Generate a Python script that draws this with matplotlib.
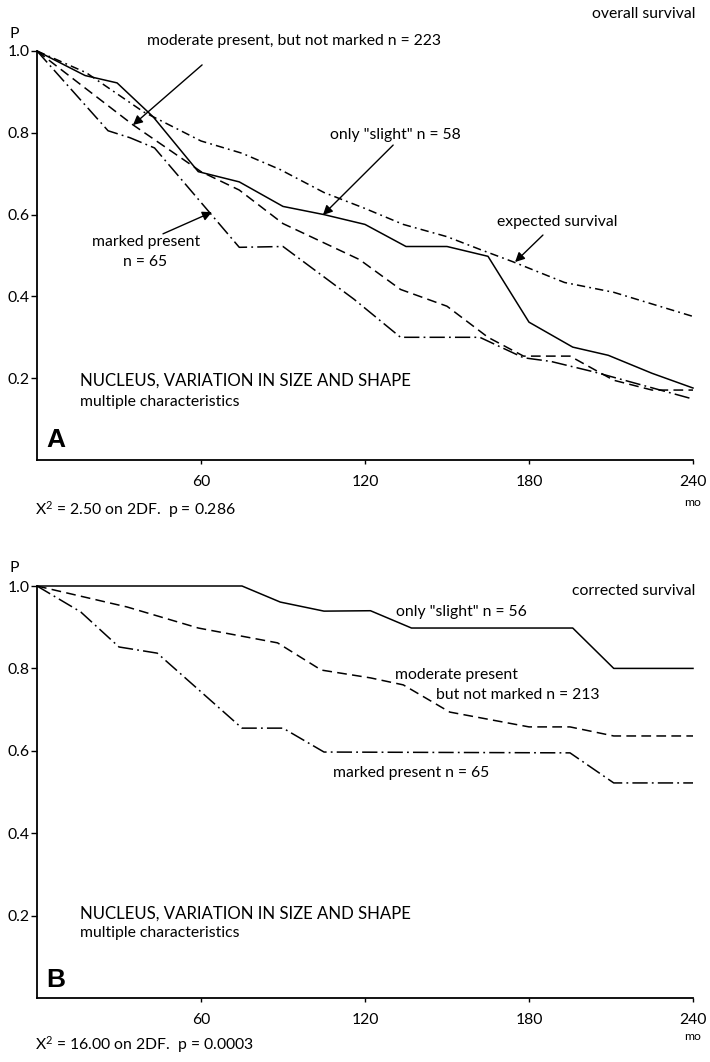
import matplotlib
matplotlib.use("Agg")
import matplotlib.pyplot as plt

plt.rcParams["font.family"] = ["Lato", "DejaVu Sans"]
plt.rcParams["mathtext.fontset"] = "custom"
plt.rcParams["mathtext.rm"] = "Lato"
plt.rcParams["mathtext.it"] = "Lato"
plt.rcParams["lines.scale_dashes"] = False

# ---- Panel A: overall survival ----
months_a_slight = [0, 17.6, 29.3, 42.5, 59, 74, 90, 105, 120, 135, 150, 165, 180, 196, 209, 225, 240]
p_a_slight = [1.0, 0.94, 0.922, 0.839, 0.705, 0.68, 0.62, 0.60, 0.576, 0.522, 0.522, 0.498, 0.337, 0.276, 0.256, 0.212, 0.176]

months_a_moderate = [0, 35, 60, 74, 90, 118, 133, 150, 165, 178, 195, 211, 225, 240]
p_a_moderate = [1.0, 0.82, 0.705, 0.66, 0.578, 0.49, 0.417, 0.376, 0.30, 0.254, 0.254, 0.195, 0.171, 0.171]

months_a_marked = [0, 26, 34, 43, 74, 90, 116, 133, 162, 178, 188, 204, 240]
p_a_marked = [1.0, 0.805, 0.788, 0.763, 0.52, 0.522, 0.393, 0.30, 0.30, 0.25, 0.241, 0.215, 0.149]

months_a_expected = [0, 18, 39, 60, 75, 89, 105, 120, 134, 150, 162, 174, 193, 211, 240]
p_a_expected = [1.0, 0.947, 0.851, 0.78, 0.75, 0.71, 0.654, 0.615, 0.576, 0.546, 0.515, 0.485, 0.434, 0.41, 0.351]

# ---- Panel B: corrected survival ----
months_b_slight = [0, 75, 89, 105, 122, 137, 196, 211, 240]
p_b_slight = [1.0, 1.0, 0.961, 0.939, 0.94, 0.898, 0.898, 0.80, 0.80]

months_b_moderate = [0, 33, 59, 88, 104, 122, 134, 151, 180, 195, 211, 240]
p_b_moderate = [1.0, 0.949, 0.898, 0.862, 0.796, 0.777, 0.76, 0.694, 0.658, 0.658, 0.636, 0.636]

months_b_marked = [0, 16, 30, 44, 75, 90, 105, 195, 211, 240]
p_b_marked = [1.0, 0.937, 0.852, 0.837, 0.655, 0.655, 0.597, 0.595, 0.522, 0.522]

x_ticks = [60, 120, 180, 240]
y_ticks = [0.2, 0.4, 0.6, 0.8, 1.0]
y_ticklabels = ["0.2", "0.4", "0.6", "0.8", "1.0"]

W, H = 710, 1062
fig = plt.figure(figsize=(W / 100, H / 100), dpi=100)


def fx(px):
    return px / W


def fy(py):
    return 1 - py / H


LW = 1.1
STYLE_SOLID = "-"
STYLE_DASH = (0, (7, 3.8))
STYLE_LONGDASHDOT = (0, (11, 3, 1.3, 3))
STYLE_DASHDOT = (0, (6, 3, 1.3, 3))
FS = 11.3


def setup_axes(ax):
    ax.set_xlim(0, 240)
    ax.set_ylim(0, 1.0)
    for s in ("top", "right"):
        ax.spines[s].set_visible(False)
    for s in ("left", "bottom"):
        ax.spines[s].set_linewidth(1.3)
    ax.set_xticks(x_ticks)
    ax.set_xticklabels([str(t) for t in x_ticks])
    ax.set_yticks(y_ticks)
    ax.set_yticklabels(y_ticklabels)
    ax.tick_params(axis="y", direction="out", length=4, width=1, pad=1.2, labelsize=FS)
    ax.tick_params(axis="x", direction="out", length=3, width=1, pad=7.5, labelsize=FS)
    ax.patch.set_visible(False)


def arrow(ax, start, tip):
    ax.annotate("", xy=tip, xytext=start,
                arrowprops=dict(arrowstyle="-|>", color="black", lw=1.0,
                                mutation_scale=14, shrinkA=0, shrinkB=0),
                annotation_clip=False)


# ---------------- Panel A ----------------
axA = fig.add_axes([fx(37), fy(460), fx(693) - fx(37), fy(51) - fy(460)])
setup_axes(axA)
axA.plot(months_a_expected, p_a_expected, color="black", lw=LW, linestyle=STYLE_DASHDOT, clip_on=False)
axA.plot(months_a_slight, p_a_slight, color="black", lw=LW, linestyle=STYLE_SOLID, clip_on=False)
axA.plot(months_a_moderate, p_a_moderate, color="black", lw=LW, linestyle=STYLE_DASH, clip_on=False)
axA.plot(months_a_marked, p_a_marked, color="black", lw=LW, linestyle=STYLE_LONGDASHDOT, clip_on=False)

axA.text(40.2, 1.025, "moderate present, but not marked n = 223", fontsize=FS, va="center", ha="left")
arrow(axA, (60.4, 0.966), (35.1, 0.819))
axA.text(107.2, 0.795, "only \"slight\" n = 58", fontsize=FS, va="center", ha="left")
arrow(axA, (130.3, 0.770), (104.6, 0.599))
axA.text(168.3, 0.582, "expected survival", fontsize=FS, va="center", ha="left")
arrow(axA, (185.1, 0.550), (174.9, 0.484))
axA.text(20.1, 0.533, "marked present", fontsize=FS, va="center", ha="left")
axA.text(39.5, 0.484, "n = 65", fontsize=FS, va="center", ha="center")
arrow(axA, (46.1, 0.553), (64.0, 0.606))
axA.text(15.7, 0.193, "NUCLEUS, VARIATION IN SIZE AND SHAPE", fontsize=FS + 0.8, va="center", ha="left")
axA.text(15.7, 0.142, "multiple characteristics", fontsize=FS, va="center", ha="left")
axA.text(3.5, 0.049, "A", fontsize=19, fontweight="bold", family="Liberation Sans", va="center", ha="left")

fig.text(fx(695), fy(14), "overall survival", fontsize=FS, ha="right", va="center")
fig.text(fx(14), fy(34), "P", fontsize=FS, ha="center", va="center")
fig.text(fx(693), fy(503), "mo", fontsize=FS - 2.5, ha="center", va="center")
fig.text(fx(35), fy(510), r"X$^{2}$ = 2.50 on 2DF.  p = 0.286", fontsize=FS, ha="left", va="center")

# ---------------- Panel B ----------------
axB = fig.add_axes([fx(37), fy(998), fx(693) - fx(37), fy(586) - fy(998)])
setup_axes(axB)
axB.plot(months_b_slight, p_b_slight, color="black", lw=LW, linestyle=STYLE_SOLID, clip_on=False)
axB.plot(months_b_moderate, p_b_moderate, color="black", lw=LW, linestyle=STYLE_DASH, clip_on=False)
axB.plot(months_b_marked, p_b_marked, color="black", lw=LW, linestyle=STYLE_LONGDASHDOT, clip_on=False)

axB.text(131.4, 0.937, "only \"slight\" n = 56", fontsize=FS, va="center", ha="left")
axB.text(131.0, 0.784, "moderate present", fontsize=FS, va="center", ha="left")
axB.text(146.0, 0.735, "but not marked n = 213", fontsize=FS, va="center", ha="left")
axB.text(108.3, 0.546, "marked present n = 65", fontsize=FS, va="center", ha="left")
axB.text(15.7, 0.206, "NUCLEUS, VARIATION IN SIZE AND SHAPE", fontsize=FS + 0.8, va="center", ha="left")
axB.text(15.7, 0.158, "multiple characteristics", fontsize=FS, va="center", ha="left")
axB.text(3.5, 0.044, "B", fontsize=19, fontweight="bold", family="Liberation Sans", va="center", ha="left")

fig.text(fx(695), fy(591), "corrected survival", fontsize=FS, ha="right", va="center")
fig.text(fx(14), fy(568), "P", fontsize=FS, ha="center", va="center")
fig.text(fx(693), fy(1037), "mo", fontsize=FS - 2.5, ha="center", va="center")
fig.text(fx(35), fy(1045), r"X$^{2}$ = 16.00 on 2DF.  p = 0.0003", fontsize=FS, ha="left", va="center")

fig.savefig("out.png", dpi=100, facecolor="white")
